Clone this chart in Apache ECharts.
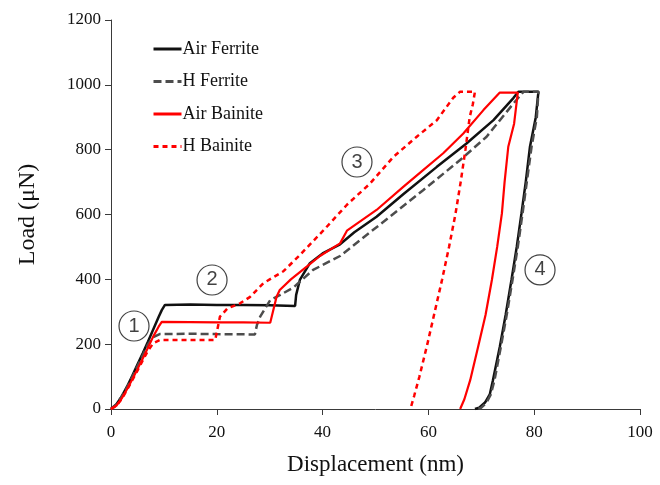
<!DOCTYPE html>
<html>
<head>
<meta charset="utf-8">
<script src="https://cdn.jsdelivr.net/npm/echarts@6/dist/echarts.min.js"></script>
<style>html,body{margin:0;padding:0;background:#fff}#c{width:660px;height:485px}</style>
</head>
<body>
<div id="c"></div>
<script>
// ---- Data (displacement nm, load µN) ----
var seriesNames = ['Air Ferrite', 'H Ferrite', 'Air Bainite', 'H Bainite'];

var airFerrite = [[0,0],[1,14],[2,38],[3,68],[4,102],[5,137],[6,172],[7,208],[8,246],[9,284],[9.6,305],[10.2,321],[15,322],[20,321],[25,321],[30,320],[34.8,318],[35.0,352],[35.7,398],[37.6,450],[40,480],[43.3,508],[46,545],[50.2,593],[55.3,663],[61.6,747],[67.2,819],[72.3,891],[76.1,960],[77,979],[80.8,979],[80.3,900],[79.2,809],[78.4,700],[77.6,604],[76.7,500],[75.7,398],[74.6,290],[73.5,192],[72.2,89],[71.6,45],[70.7,20],[69.6,4],[68.8,0]];

var hFerrite = [[0,0],[1,14],[2,38],[3,66],[4,98],[5,132],[6,166],[7,200],[8,222],[9.2,231],[15,232],[20,231],[27.2,230],[27.6,260],[28.2,285],[30.1,336],[32,352],[34.5,375],[38.2,429],[43.3,472],[47.1,521],[52.7,593],[59,675],[66,768],[71,840],[76.1,943],[78,979],[80.8,979],[80.5,900],[79.5,809],[78.6,700],[77.8,604],[76.9,500],[75.9,398],[74.8,290],[73.7,192],[72.5,89],[71.8,45],[71,20],[70,4],[69.2,0]];

var airBainite = [[0,0],[1,10],[2,32],[3,60],[4,91],[5,123],[6,156],[7,190],[8,224],[9,254],[9.6,269],[15,268],[20,267],[25,267],[30.1,266],[31.3,346],[31.9,367],[34,400],[37,439],[39.5,472],[43.3,511],[44.6,550],[50.2,614],[55.3,686],[59,737],[62.8,789],[66.6,850],[70.4,922],[73.5,976],[76.9,976],[76.2,880],[75.1,809],[74.4,700],[73.9,604],[73,500],[72,398],[70.8,290],[69.4,192],[67.9,89],[66.8,30],[66,0]];

var hBainite = [[0,0],[1,10],[2,30],[3,58],[4,88],[5,118],[6,150],[7,180],[8,203],[9.3,213],[15,213],[19.7,213],[20.6,285],[22,310],[24.4,326],[26.3,346],[28.8,388],[32.6,425],[35.4,470],[40.1,550],[44.6,630],[49,696],[53.4,778],[57.8,840],[61.6,891],[64.7,960],[66,979],[68.8,979],[68.4,940],[67.8,900],[67,800],[66.1,700],[65.1,600],[63.9,500],[62.6,400],[61.2,300],[59.8,200],[58.3,100],[57.3,40],[56.6,0]];

// Circled region annotations (label, x, y)
var annotLabels = ['1', '2', '3', '4'];
var annotX = [4.35, 19.1, 46.5, 81.1];
var annotY = [256, 398, 762, 429];

var xTicks = [0, 20, 40, 60, 80, 100];
var yTicks = [0, 200, 400, 600, 800, 1000, 1200];

// ---- Chart ----
var chart = echarts.init(document.getElementById('c'), null, {renderer: 'canvas'});
var serif = 'Liberation Serif, Times New Roman, serif';
var axisColor = '#3a3a3a';

function lineSeries(name, data, color, type, width) {
  return {
    name: name, type: 'line', data: data, symbol: 'none', showSymbol: false,
    lineStyle: {color: color, width: width, type: type},
    itemStyle: {color: color},
    z: 2, animation: false
  };
}

var annotData = annotLabels.map(function (l, i) { return {value: [annotX[i], annotY[i]], label: l}; });

var option = {
  backgroundColor: '#fff',
  animation: false,
  grid: {left: 111, right: 20, top: 20, bottom: 76, containLabel: false},
  legend: {
    orient: 'vertical', left: 147, top: 35, itemGap: 14.5,
    itemWidth: 28, itemHeight: 18,
    data: seriesNames,
    itemStyle: {opacity: 0},
    lineStyle: {width: 3},
    textStyle: {fontFamily: serif, fontSize: 18, color: '#111', padding: [0,0,0,-4]}
  },
  xAxis: {
    type: 'value', min: 0, max: 100, interval: 20,
    name: 'Displacement (nm)', nameLocation: 'middle', nameGap: 44,
    nameTextStyle: {fontFamily: serif, fontSize: 23, color: '#111'},
    axisLine: {show: true, lineStyle: {color: axisColor, width: 1}},
    axisTick: {show: true, inside: false, length: 6, lineStyle: {color: axisColor}},
    axisLabel: {fontFamily: serif, fontSize: 17, color: '#111', margin: 15,
      formatter: function (v) { return xTicks.indexOf(v) >= 0 ? String(v) : ''; }},
    splitLine: {show: false}
  },
  yAxis: {
    type: 'value', min: 0, max: 1200, interval: 200,
    name: 'Load (μN)', nameLocation: 'middle', nameGap: 71,
    nameTextStyle: {fontFamily: serif, fontSize: 24, color: '#111'},
    axisLine: {show: true, lineStyle: {color: axisColor, width: 1}},
    axisTick: {show: true, inside: false, length: 6, lineStyle: {color: axisColor}},
    axisLabel: {fontFamily: serif, fontSize: 17, color: '#111', margin: 10,
      formatter: function (v) { return yTicks.indexOf(v) >= 0 ? String(v) : ''; }},
    splitLine: {show: false}
  },
  series: [
    lineSeries(seriesNames[0], airFerrite, '#111111', 'solid', 2.5),
    lineSeries(seriesNames[1], hFerrite, '#4d4d4d', [8, 4], 2.5),
    lineSeries(seriesNames[2], airBainite, '#ff0000', 'solid', 2.2),
    lineSeries(seriesNames[3], hBainite, '#ff0000', [5, 4], 2.5),
    {
      type: 'scatter', data: annotData, symbol: 'circle', symbolSize: 30,
      itemStyle: {color: '#fff', borderColor: '#111', borderWidth: 1.2},
      label: {show: true, position: 'inside', formatter: function (p) { return p.data.label; },
        fontFamily: 'Liberation Sans, Arial, sans-serif', fontSize: 20, color: '#111'},
      z: 5, silent: true, animation: false, legendHoverLink: false
    }
  ]
};
chart.setOption(option);
</script>
</body>
</html>
